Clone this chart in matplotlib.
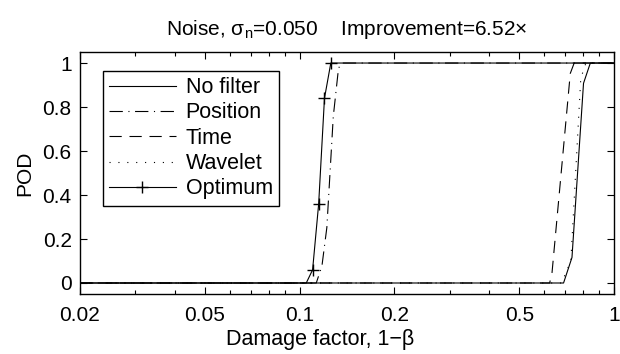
import numpy as np
import matplotlib
matplotlib.use('Agg')
import matplotlib.pyplot as plt
from matplotlib.ticker import FixedLocator, FixedFormatter, NullFormatter

plt.rcParams['font.family'] = ['Liberation Sans', 'DejaVu Sans']
plt.rcParams['mathtext.fontset'] = 'custom'
plt.rcParams['mathtext.rm'] = 'Liberation Sans'
plt.rcParams['mathtext.it'] = 'Liberation Sans:italic'

# damage factor (x) and probability of detection (y) for each filter
nofilter_x = [0.02, 0.692, 0.736, 0.801, 0.842, 1.0]
nofilter_y = [0, 0, 0.116, 0.908, 1, 1]

position_x = [0.02, 0.113, 0.1178, 0.1221, 0.128, 0.133, 0.136, 1.0]
position_y = [0, 0, 0.078, 0.252, 0.757, 0.976, 1, 1]

time_x = [0.02, 0.625, 0.636, 0.727, 0.748, 1.0]
time_y = [0, 0, 0.048, 0.953, 1, 1]

wavelet_x = [0.02, 0.682, 0.73, 0.785, 0.815, 1.0]
wavelet_y = [0, 0, 0.1, 0.93, 1, 1]

optimum_x = [0.02, 0.105, 0.11, 0.115, 0.12, 0.1257, 1.0]
optimum_y = [0, 0, 0.06, 0.36, 0.84, 1, 1]

xticks = [0.02, 0.05, 0.1, 0.2, 0.5, 1]
xticklabels = ['0.02', '0.05', '0.1', '0.2', '0.5', '1']
yticks = [0, 0.2, 0.4, 0.6, 0.8, 1]
yticklabels = ['0', '0.2', '0.4', '0.6', '0.8', '1']

fs = 15
lw = 0.8

fig = plt.figure(figsize=(6.2, 3.54), dpi=100)
ax = fig.add_axes([0.129, 0.1695, 0.861, 0.6835])

ax.plot(nofilter_x, nofilter_y, color='black', lw=lw, label='No filter')
ax.plot(position_x, position_y, color='black', lw=lw,
        linestyle=(0, (12, 5, 1, 5)), label='Position')
ax.plot(time_x, time_y, color='black', lw=lw,
        linestyle=(0, (11, 7)), label='Time')
ax.plot(wavelet_x, wavelet_y, color='black', lw=lw,
        linestyle=(0, (1, 7)), label='Wavelet')
ax.plot(optimum_x, optimum_y, color='black', lw=lw, marker='+',
        markersize=9, markeredgewidth=1.0, markevery=[2, 3, 4, 5],
        label='Optimum')

ax.set_xscale('log')
ax.set_xlim(0.02, 1)
ax.set_ylim(-0.05, 1.05)

ax.xaxis.set_major_locator(FixedLocator(xticks))
ax.xaxis.set_major_formatter(FixedFormatter(xticklabels))
minor = [m * 10.0 ** e for e in (-2, -1) for m in range(2, 10)]
minor = [v for v in minor if v not in xticks and 0.02 <= v <= 1]
ax.xaxis.set_minor_locator(FixedLocator(minor))
ax.xaxis.set_minor_formatter(NullFormatter())
ax.set_yticks(yticks)
ax.set_yticklabels(yticklabels)

ax.tick_params(which='both', direction='in', top=True, right=True,
               labelsize=fs, width=0.8)
ax.tick_params(axis='x', pad=9)
ax.tick_params(axis='y', pad=6)
ax.tick_params(which='major', length=5)
ax.tick_params(which='minor', length=3)
for s in ax.spines.values():
    s.set_linewidth(1.0)

ax.set_xlabel('Damage factor, 1\u2212\u03b2', fontsize=15.5)
ax.xaxis.set_label_coords(0.45, -0.145)
ax.set_ylabel('POD', fontsize=fs, labelpad=6)
ax.set_title('Noise, \u03c3$_{\\mathrm{n}}$=0.050    Improvement=6.52\u00d7',
             fontsize=15, pad=12)

leg = ax.legend(loc='upper left', bbox_to_anchor=(0.0425, 0.923),
                borderaxespad=0, fontsize=15.5, handlelength=3.1,
                handletextpad=0.45, labelspacing=0.2, borderpad=0.3,
                fancybox=False, framealpha=1, edgecolor='black')
leg.get_frame().set_linewidth(1.0)

fig.savefig('out.png', dpi=100)
